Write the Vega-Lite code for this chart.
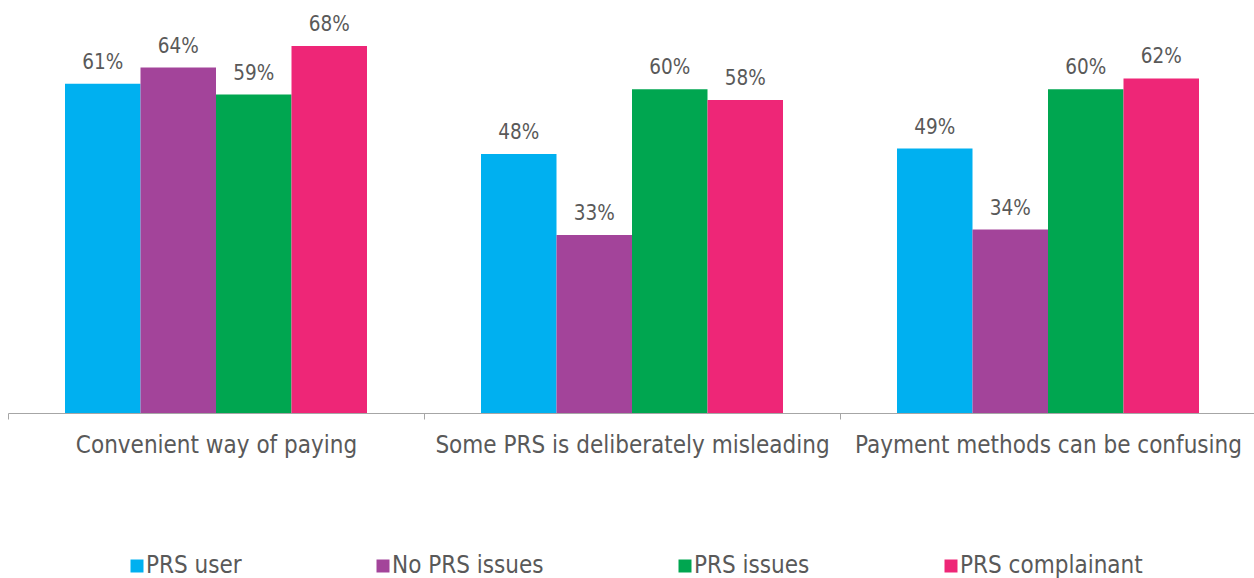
{
  "$schema": "https://vega.github.io/schema/vega-lite/v6.json",
  "width": 1248,
  "height": 367,
  "autosize": {"type": "none"},
  "padding": {"left": 8, "top": 46, "right": 0, "bottom": 165},
  "background": "white",
  "config": {"view": {"stroke": null}, "font": "DejaVu Sans Condensed"},
  "data": {
    "values": [
      {"cat": "Convenient way of paying", "group": "PRS user", "value": 61},
      {"cat": "Convenient way of paying", "group": "No PRS issues", "value": 64},
      {"cat": "Convenient way of paying", "group": "PRS issues", "value": 59},
      {"cat": "Convenient way of paying", "group": "PRS complainant", "value": 68},
      {"cat": "Some PRS is deliberately misleading", "group": "PRS user", "value": 48},
      {"cat": "Some PRS is deliberately misleading", "group": "No PRS issues", "value": 33},
      {"cat": "Some PRS is deliberately misleading", "group": "PRS issues", "value": 60},
      {"cat": "Some PRS is deliberately misleading", "group": "PRS complainant", "value": 58},
      {"cat": "Payment methods can be confusing", "group": "PRS user", "value": 49},
      {"cat": "Payment methods can be confusing", "group": "No PRS issues", "value": 34},
      {"cat": "Payment methods can be confusing", "group": "PRS issues", "value": 60},
      {"cat": "Payment methods can be confusing", "group": "PRS complainant", "value": 62}
    ]
  },
  "encoding": {
    "x": {
      "field": "cat", "type": "nominal", "sort": null, "title": null,
      "scale": {"paddingInner": 0, "paddingOuter": 0},
      "axis": {
        "labelAngle": 0, "labelFontSize": 24, "labelColor": "#595959",
        "labelFont": "DejaVu Sans Condensed",
        "domainColor": "#A6A6A6", "tickColor": "#A6A6A6", "tickSize": 6,
        "tickBand": "extent", "labelPadding": 14, "labelLimit": 500, "grid": false
      }
    },
    "xOffset": {
      "field": "group", "type": "nominal",
      "scale": {"domain": ["PRS user", "No PRS issues", "PRS issues", "PRS complainant"], "paddingInner": 0, "paddingOuter": 0.755}
    },
    "y": {
      "field": "value", "type": "quantitative", "axis": null,
      "scale": {"domain": [0, 68], "nice": false, "zero": true}
    }
  },
  "transform": [{"calculate": "datum.value + '%'", "as": "label"}],
  "layer": [
    {
      "mark": {"type": "bar"},
      "encoding": {
        "color": {
          "field": "group", "type": "nominal",
          "scale": {
            "domain": ["PRS user", "No PRS issues", "PRS issues", "PRS complainant"],
            "range": ["#00B0F0", "#A3449A", "#00A650", "#EE2677"]
          },
          "legend": {
            "title": null, "orient": "none", "direction": "horizontal",
            "legendX": 117, "legendY": 508,
            "symbolType": "square", "symbolSize": 169, "symbolStrokeWidth": 0,
            "labelFontSize": 24, "labelColor": "#595959", "labelFont": "DejaVu Sans Condensed",
            "labelOffset": -3, "columnPadding": 129, "labelLimit": 400
          }
        }
      }
    },
    {
      "mark": {"type": "text", "dy": -15, "baseline": "alphabetic", "fontSize": 20.5, "color": "#595959", "font": "DejaVu Sans Condensed"},
      "encoding": {
        "text": {"field": "label", "type": "nominal"},
        "detail": {"field": "group"}
      }
    }
  ]
}
